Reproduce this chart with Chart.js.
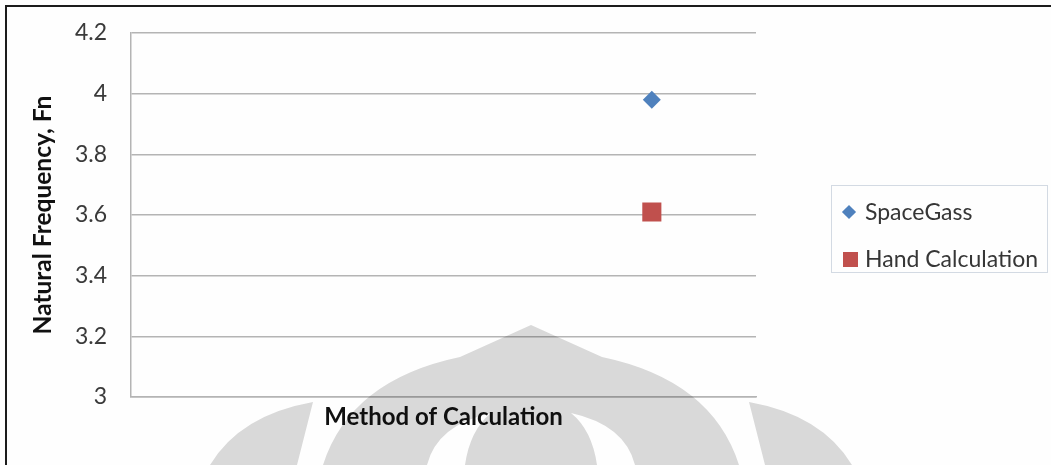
<!DOCTYPE html>
<html>
<head>
<meta charset="utf-8">
<script src="https://cdn.jsdelivr.net/npm/chart.js@4"></script>
<style>
  body { margin: 0; background: #fefefe; }
  #wrap { position: relative; width: 1051px; height: 465px; overflow: hidden; }
  #frame {
    position: absolute; left: 5px; top: 5px; right: -10px; bottom: -10px;
    border-left: 2px solid #1c1c1c; border-top: 2px solid #1c1c1c;
    pointer-events: none;
  }
  #legend {
    position: absolute; left: 831px; top: 185px; width: 217px; height: 88px;
    border: 1px solid #d3dae3; box-sizing: border-box;
    font-family: Lato, sans-serif; font-size: 23px; color: #363636;
    padding-top: 2px;
  }
  .item { height: 47px; line-height: 47px; position: relative; padding-left: 33px; white-space: nowrap; }
  .mark { position: absolute; top: 50%; }
  .mark.diamond { left: 12px; width: 10px; height: 10px; margin-top: -5px; transform: rotate(45deg); }
  .mark.square { left: 11px; width: 15px; height: 15px; margin-top: -7px; }
</style>
</head>
<body>
<div id="wrap">
  <canvas id="grafico"></canvas>
  <div id="legend"></div>
  <div id="frame"></div>
</div>
<script>
// categorias (solo la tercera tiene valores)
const categorias = ['', '', ''];
const spaceGass = [null, null, 3.98];
const handCalc = [null, null, 3.61];
const nombres = ['SpaceGass', 'Hand Calculation'];
const colores = ['#4F81BD', '#C0504D'];
const marcas = ['diamond', 'square'];
const yTicks = [3, 3.2, 3.4, 3.6, 3.8, 4, 4.2];

// leyenda en html
const legendEl = document.getElementById('legend');
nombres.forEach(function (n, i) {
  legendEl.innerHTML += `
    <div class="item">
      <span class="mark ${marcas[i]}" style="background:${colores[i]}"></span>${n}
    </div>`;
});

// marca de agua (logo gris al fondo)
const marcaAgua = {
  id: 'marcaAgua',
  afterDraw(chart) {
    const ctx = chart.ctx;
    ctx.save();
    ctx.globalCompositeOperation = 'multiply';
    ctx.fillStyle = '#d9d9d9';
    ctx.beginPath();
    // cupula
    ctx.moveTo(323, 470);
    ctx.lineTo(323, 465);
    ctx.quadraticCurveTo(350, 380, 460, 357);
    ctx.lineTo(531, 325);
    ctx.lineTo(602, 357);
    ctx.quadraticCurveTo(712, 380, 739, 465);
    ctx.lineTo(739, 470);
    ctx.closePath();
    // ranuras blancas
    ctx.moveTo(427, 470);
    ctx.lineTo(427, 465);
    ctx.quadraticCurveTo(437, 425, 491, 413);
    ctx.quadraticCurveTo(470, 430, 465, 465);
    ctx.lineTo(465, 470);
    ctx.closePath();
    ctx.moveTo(635, 470);
    ctx.lineTo(635, 465);
    ctx.quadraticCurveTo(625, 425, 571, 413);
    ctx.quadraticCurveTo(592, 430, 597, 465);
    ctx.lineTo(597, 470);
    ctx.closePath();
    // piezas laterales
    ctx.moveTo(210, 470);
    ctx.lineTo(210, 465);
    ctx.quadraticCurveTo(240, 415, 313, 402);
    ctx.lineTo(297, 465);
    ctx.lineTo(297, 470);
    ctx.closePath();
    ctx.moveTo(852, 470);
    ctx.lineTo(852, 465);
    ctx.quadraticCurveTo(822, 415, 749, 402);
    ctx.lineTo(765, 465);
    ctx.lineTo(765, 470);
    ctx.closePath();
    ctx.fill('evenodd');
    ctx.restore();
  }
};

const canvas = document.getElementById('grafico');
canvas.width = 1051;
canvas.height = 465;

const grafico = new Chart(canvas, {
  type: 'line',
  data: {
    labels: categorias,
    datasets: [
      {
        label: nombres[0],
        data: spaceGass,
        showLine: false,
        pointStyle: 'rectRot',
        pointRadius: 9,
        pointHoverRadius: 9,
        backgroundColor: colores[0],
        borderColor: colores[0],
        borderWidth: 0
      },
      {
        label: nombres[1],
        data: handCalc,
        showLine: false,
        pointStyle: 'rect',
        pointRadius: 13.5,
        pointHoverRadius: 13.5,
        backgroundColor: colores[1],
        borderColor: colores[1],
        borderWidth: 0
      }
    ]
  },
  options: {
    responsive: false,
    animation: false,
    layout: { padding: { left: 0, right: 295, top: 33, bottom: 0 } },
    plugins: {
      legend: { display: false },
      tooltip: { enabled: false }
    },
    scales: {
      x: {
        offset: true,
        grid: { display: false, drawTicks: false },
        border: { display: true, color: '#b4b4b4', width: 1.5 },
        ticks: { display: false },
        title: {
          display: true,
          text: 'Method of Calculation',
          color: '#111',
          font: { family: 'Lato', size: 24, weight: 'bold' },
          padding: { top: 0, bottom: 33 }
        },
        afterFit(scale) { scale.height = 68; }
      },
      y: {
        min: 3,
        max: 4.2,
        afterBuildTicks(scale) {
          scale.ticks = yTicks.map(function (v) { return { value: v }; });
        },
        // marcas invisibles: solo sirven para separar los numeros del eje
        grid: { color: '#b4b4b4', lineWidth: 1.5, drawTicks: true, tickLength: 24, tickColor: 'rgba(0,0,0,0)' },
        border: { display: true, color: '#b4b4b4', width: 1.5 },
        ticks: {
          padding: 0,
          color: '#3a3a3a',
          font: { family: 'Lato', size: 23 },
          callback: function (v) { return String(parseFloat(Number(v).toFixed(1))); }
        },
        title: {
          display: true,
          text: 'Natural Frequency, Fn',
          color: '#111',
          font: { family: 'Lato', size: 24.5, weight: 'bold' },
          padding: { top: 28, bottom: 0 }
        },
        afterFit(scale) { scale.width = 131; }
      }
    }
  },
  plugins: [marcaAgua]
});
</script>
</body>
</html>
